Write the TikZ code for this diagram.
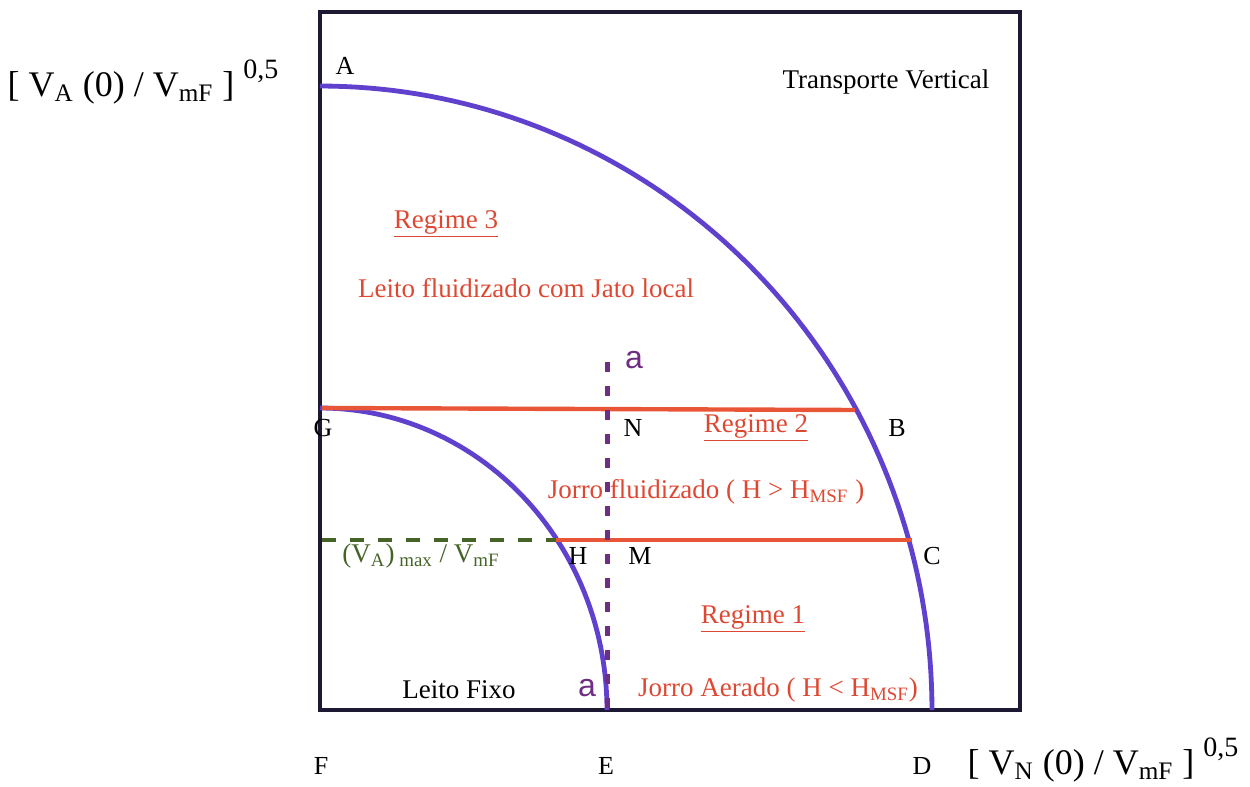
\documentclass[tikz,border=0pt]{standalone}
\usepackage{fontspec}
\setmainfont{Liberation Serif}
\newfontfamily\sansa{Liberation Sans}
\usetikzlibrary{positioning, calc}
\definecolor{regblue}{RGB}{95,65,205}
\definecolor{regred}{RGB}{232,85,55}
\definecolor{txtred}{RGB}{222,72,50}
\definecolor{limgreen}{RGB}{70,100,40}
\definecolor{cutpurple}{RGB}{112,45,130}
\definecolor{framecol}{RGB}{30,25,50}
\tikzset{
  frame/.style={draw=framecol, line width=2pt},
  bound/.style={draw=regblue, line width=2.4pt},
  limit/.style={draw=regred, line width=2.2pt},
  vmax/.style={draw=limgreen, line width=2pt, dash pattern=on 7pt off 7pt},
  cut/.style={draw=cutpurple, line width=2.5pt, dash pattern=on 5pt off 7pt},
  pt/.style={font=\fontsize{13}{15}\selectfont, text=black, inner sep=1pt},
  reg/.style={font=\fontsize{13.5}{16}\selectfont, text=txtred, inner sep=1pt},
  plain/.style={font=\fontsize{13.5}{16}\selectfont, text=black, inner sep=1pt},
  cutlbl/.style={font=\sansa\fontsize{16}{18}\selectfont, text=cutpurple, inner sep=1pt},
  axis/.style={font=\fontsize{18}{22}\selectfont, text=black, inner sep=1pt}
}
\begin{document}
\begin{tikzpicture}[x=0.5pt, y=-0.5pt]
  \useasboundingbox (0,0) rectangle (1250,787);
  % corners and curve points
  \coordinate (F) at (320,710);
  \coordinate (TR) at (1020,12);
  \coordinate (A) at (320,86);
  \coordinate (B) at (855,410);
  \coordinate (C) at (912,540);
  \coordinate (D) at (932,710);
  \coordinate (E) at (607,710);
  \coordinate (G) at (322,408);
  \coordinate (H) at (556,540);
  \coordinate (Hl) at (322,540);
  \coordinate (top) at (607,362);
  \draw[frame] (F) rectangle (TR);
  \draw[bound] plot[domain=0:90, samples=80] ({320+612*cos(\x)},{710-624*sin(\x)});
  \draw[bound] plot[domain=0:90, samples=60] ({320+287*cos(\x)},{710-302*sin(\x)});
  \draw[limit] (G) -- (B);
  \draw[limit] (H) -- (C);
  \draw[vmax] (Hl) -- (H);
  \draw[cut] (top) -- (E);
  \node[pt] (lA) at (345,66) {A};
  \node[pt] (lB) at (897,428) {B};
  \node[pt] (lC) at (932,556) {C};
  \node[pt] (lD) at (922,766) {D};
  \node[pt] (lE) at (606,766) {E};
  \node[pt] (lF) at (321,766) {F};
  \node[pt] (lG) at (323,428) {G};
  \node[pt] (lH) at (578,556) {H};
  \node[pt] (lM) at (640,556) {M};
  \node[pt] (lN) at (633,428) {N};
  \node[cutlbl] (ta) at (634,360) {a};
  \node[cutlbl] (ba) at (587,688) {a};
  \node[plain] (tv) at (886,82) {Transporte Vertical};
  \node[plain] (fixo) at (459,690) {Leito Fixo};
  \node[reg] (r3) at (446,224) {\underline{Regime 3}};
  \node[reg] (r3t) at (526,288) {Leito fluidizado com Jato local};
  \node[reg] (r2) at (756,428) {\underline{Regime 2}};
  \node[reg] (r2t) at (706,492) {Jorro fluidizado ( H > H\textsubscript{MSF} )};
  \node[reg] (r1) at (753,619) {\underline{Regime 1}};
  \node[reg] (r1t) at (778,690) {Jorro Aerado ( H < H\textsubscript{MSF})};
  \node[reg, text=limgreen] (vm) at (421,556) {(V\textsubscript{A})\textsubscript{ max} / V\textsubscript{mF}};
  \node[axis] (yl) at (143,82) {[ V\textsubscript{A} (0) / V\textsubscript{mF} ] \raisebox{1.1ex}{\fontsize{14}{16}\selectfont 0,5}};
  \node[axis] (xl) at (1103,760) {[ V\textsubscript{N} (0) / V\textsubscript{mF} ] \raisebox{1.1ex}{\fontsize{14}{16}\selectfont 0,5}};
\end{tikzpicture}
\end{document}
